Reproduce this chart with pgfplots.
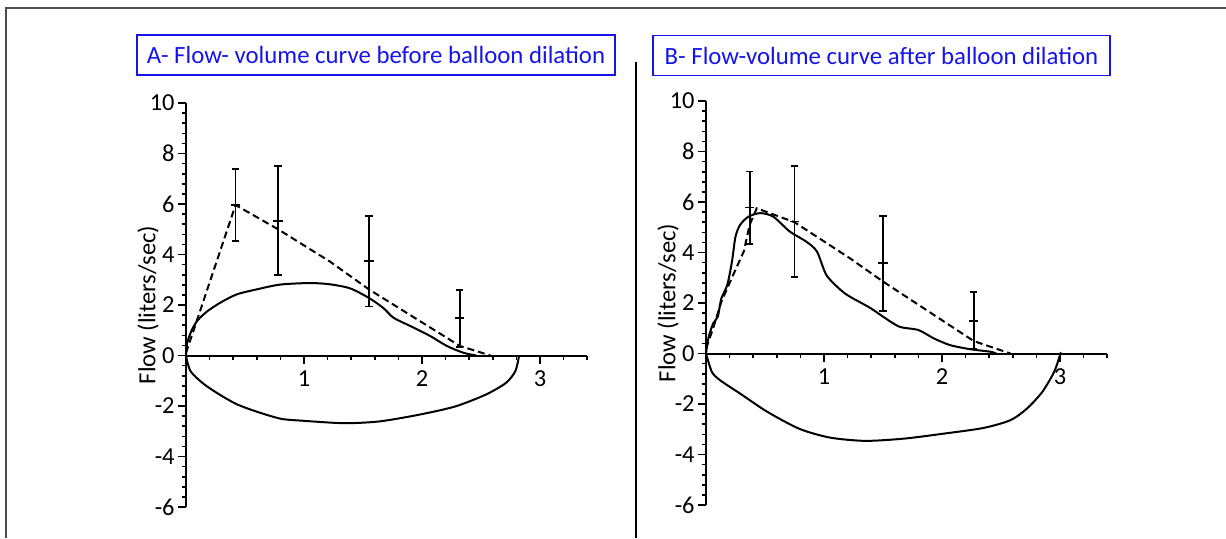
\documentclass[border=0pt]{standalone}
\usepackage{fontspec}
\setmainfont{Carlito}
\usepackage{pgfplots}
\pgfplotsset{compat=1.18}
\definecolor{tblue}{RGB}{20,20,235}

\pgfplotsset{
  fv/.style={
    scale only axis, width=200.6pt, height=202pt,
    xmin=0, xmax=3.4, ymin=-6, ymax=10,
    axis x line=middle, axis y line=left,
    axis line style={-, line width=1pt},
    xtick={1,2,3}, ytick={-6,-4,...,10},
    minor xtick={0.2,0.4,...,3.41}, minor ytick={-5.6,-5.2,...,9.7},
    tick align=outside, major tick length=4pt, minor tick length=2.2pt,
    every tick/.style={black, line width=0.8pt},
    /pgf/number format/assume math mode=true,
    xticklabel style={font=\fontsize{12.2}{13}\selectfont},
    yticklabel style={font=\fontsize{12.2}{13}\selectfont, inner sep=1.5pt},
    ylabel={Flow (liters/sec)},
    every axis y label/.style={at={(axis description cs:-0.0947,0.5)},
      rotate=90, anchor=center, font=\fontsize{12.3}{14}\selectfont},
    clip=false,
  },
  curve/.style={black, line width=1pt, smooth, tension=0.45},
  pred/.style={black, line width=1pt, dash pattern=on 3.5pt off 2pt},
  bars/.style={black, only marks, mark=-, mark size=2.3pt,
    mark options={line width=0.9pt},
    error bars/.cd, y dir=both, y explicit,
    error bar style={line width=0.9pt},
    error mark options={rotate=90, line width=0.9pt, mark size=1.8pt}},
}

\begin{document}
\begin{tikzpicture}
\path[use as bounding box] (0,0) rectangle (613pt,269pt);
% cadre et separateur
\draw[gray!60!black, line width=1pt] (3pt,0) -- (3pt,265.25pt) -- (613pt,265.25pt);
\draw[line width=1.2pt] (318pt,0) -- (318pt,238pt);
% titres
\node[draw=tblue, line width=0.9pt, text=tblue, minimum width=239pt,
      minimum height=20pt, inner sep=0pt, font=\fontsize{12.4}{14}\selectfont]
      at (188pt,241.5pt) {A- Flow- volume curve before balloon dilation};
\node[draw=tblue, line width=0.9pt, text=tblue, minimum width=228.5pt,
      minimum height=20pt, inner sep=0pt, font=\fontsize{12.4}{14}\selectfont]
      at (440.75pt,241.25pt) {B- Flow-volume curve after balloon dilation};

% A - avant dilatation
\begin{axis}[fv, at={(93pt,15.5pt)}, anchor=south west]
\addplot[curve] coordinates {
  (0,0) (0.01,0.5) (0.05,1.02) (0.1,1.4) (0.18,1.75) (0.29,2.09) (0.43,2.42)
  (0.6,2.62) (0.8,2.81) (1.05,2.87) (1.22,2.82) (1.39,2.66) (1.55,2.28)
  (1.67,1.89) (1.76,1.49) (1.9,1.17) (2.07,0.77) (2.21,0.38) (2.35,0.11)
  (2.46,0)
};
\addplot[curve] coordinates {
  (0,0) (0.04,-0.63) (0.18,-1.23) (0.44,-1.95) (0.78,-2.48) (0.98,-2.58)
  (1.34,-2.68) (1.64,-2.61) (1.98,-2.34) (2.28,-2.02) (2.54,-1.55)
  (2.71,-1.09) (2.79,-0.63) (2.82,-0.08) (2.82,0)
};
\addplot[pred] coordinates {
  (0,0.1) (0.42,5.96) (0.78,5.0) (1.22,3.72) (1.55,2.62) (2.32,0.38) (2.58,0)
};
\addplot[bars] coordinates {
  (0.42,5.96) +- (0,1.44)
  (0.78,5.34) +- (0,2.15)
  (1.55,3.73) +- (0,1.79)
  (2.32,1.47) +- (0,1.14)
};
\end{axis}

% B - apres dilatation
\begin{axis}[fv, at={(353pt,16.5pt)}, anchor=south west]
\addplot[curve] coordinates {
  (0,0) (0.02,0.6) (0.06,1.19) (0.10,1.46) (0.13,2.18) (0.18,2.71)
  (0.22,3.64) (0.25,4.63) (0.29,5.1) (0.36,5.42) (0.46,5.56) (0.57,5.42)
  (0.71,4.83) (0.85,4.43) (0.94,4.04) (1.02,3.11) (1.14,2.52) (1.22,2.25)
  (1.39,1.81) (1.50,1.46) (1.64,1.06) (1.80,0.93) (1.93,0.6) (2.07,0.33)
  (2.24,0.17) (2.41,0.07) (2.46,0)
};
\addplot[curve] coordinates {
  (0,0) (0.05,-0.73) (0.12,-1.06) (0.29,-1.59) (0.52,-2.31) (0.79,-2.98)
  (1.05,-3.33) (1.35,-3.46) (1.68,-3.37) (2.02,-3.17) (2.35,-2.95)
  (2.58,-2.64) (2.72,-2.18) (2.85,-1.52) (2.95,-0.73) (3.0,-0.06) (3.0,0)
};
\addplot[pred] coordinates {
  (0,0.2) (0.06,0.99) (0.13,2.05) (0.23,3.11) (0.32,4.04) (0.37,5.1)
  (0.43,5.75) (0.75,5.2) (1.22,3.77) (1.50,2.85) (2.27,0.49) (2.58,0)
};
\addplot[bars] coordinates {
  (0.37,5.78) +- (0,1.43)
  (0.75,5.23) +- (0,2.2)
  (1.50,3.57) +- (0,1.89)
  (2.27,1.30) +- (0,1.13)
};
\end{axis}
\end{tikzpicture}
\end{document}
